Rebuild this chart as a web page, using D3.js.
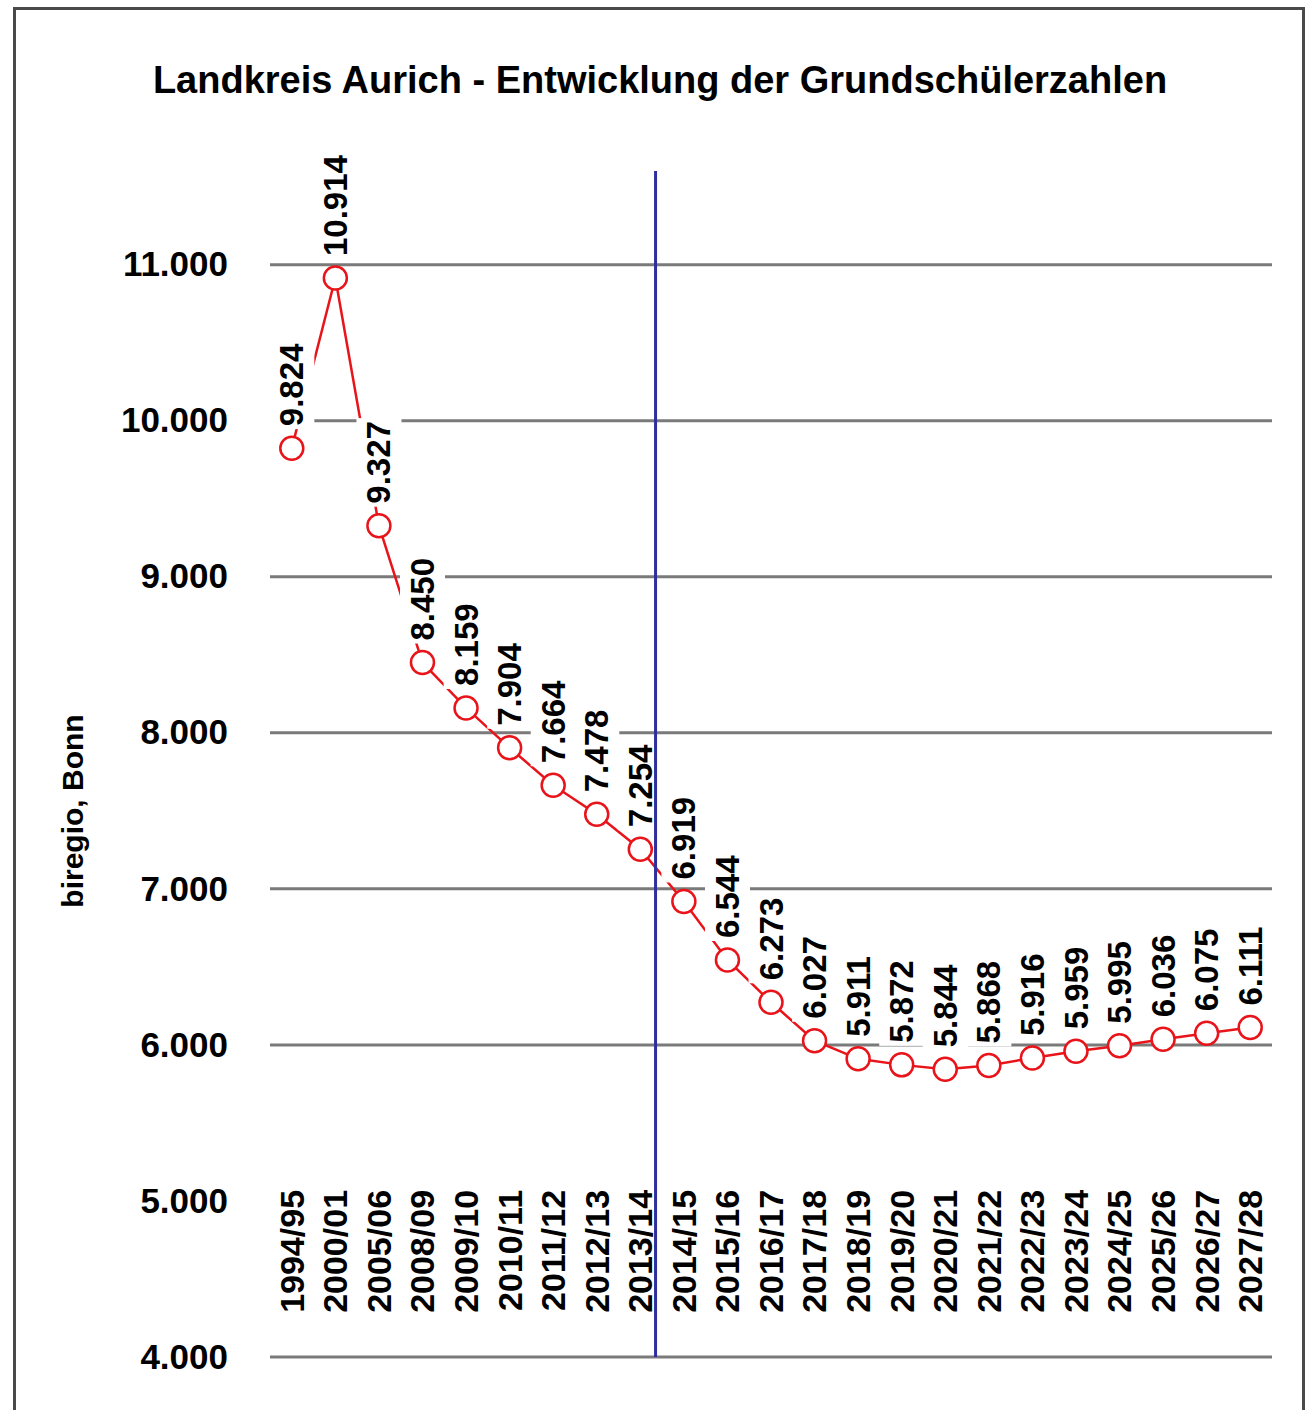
<!DOCTYPE html>
<meta charset="utf-8">
<style>
    body { margin: 0; background: #fff; }
    svg text { font-family: "Liberation Sans", Arial, sans-serif; fill: #000; }
</style>
<script src="https://d3js.org/d3.v7.min.js"></script>
<body>
<div id="chart"></div>
<script>
    var categories = ["1994/95", "2000/01", "2005/06", "2008/09", "2009/10", "2010/11", "2011/12",
        "2012/13", "2013/14", "2014/15", "2015/16", "2016/17", "2017/18", "2018/19", "2019/20",
        "2020/21", "2021/22", "2022/23", "2023/24", "2024/25", "2025/26", "2026/27", "2027/28"];
    var pupils = [9824, 10914, 9327, 8450, 8159, 7904, 7664, 7478, 7254, 6919, 6544, 6273, 6027,
        5911, 5872, 5844, 5868, 5916, 5959, 5995, 6036, 6075, 6111];
    var yTicks = [4000, 5000, 6000, 7000, 8000, 9000, 10000, 11000];
    var gridValues = [4000, 6000, 7000, 8000, 9000, 10000, 11000];
    var dividerAfter = "2013/14";   // forecast starts after this school year

    var W = 1308, H = 1410;
    var margin = {top: 171, right: 36, bottom: 53, left: 270};
    var width = W - margin.left - margin.right,
        height = H - margin.top - margin.bottom;

    var de = d3.formatLocale({decimal: ",", thousands: ".", grouping: [3], currency: ["", " €"]});
    var fmt = de.format(",d");

    var svg = d3.select("#chart").append("svg")
        .attr("width", W)
        .attr("height", H);

    svg.append("rect")
        .attr("width", W).attr("height", H)
        .attr("fill", "#fff");

    // outer frame
    svg.append("rect")
        .attr("x", 14.5).attr("y", 8.5)
        .attr("width", 1289).attr("height", 1430)
        .attr("fill", "none")
        .attr("stroke", "#4a4a4a")
        .attr("stroke-width", 3);

    svg.append("text")
        .attr("x", 660)
        .attr("y", 93)
        .attr("text-anchor", "middle")
        .style("font-size", "38px")
        .style("font-weight", "bold")
        .text("Landkreis Aurich - Entwicklung der Grundschülerzahlen");

    svg.append("text")
        .attr("transform", "translate(72,811) rotate(-90)")
        .attr("text-anchor", "middle")
        .attr("dy", "0.35em")
        .style("font-size", "30px")
        .style("font-weight", "bold")
        .text("biregio, Bonn");

    var g = svg.append("g")
        .attr("transform", "translate(" + margin.left + "," + margin.top + ")");

    var x = d3.scaleBand()
        .domain(categories)
        .range([0, width]);

    var y = d3.scaleLinear()
        .domain([4000, 11600])
        .range([height, 0]);

    // gridlines
    g.selectAll(".grid")
        .data(gridValues)
        .enter()
        .append("line")
        .attr("x1", 0).attr("x2", width)
        .attr("y1", function(d) { return y(d); })
        .attr("y2", function(d) { return y(d); })
        .attr("stroke", "#7a7a7a")
        .attr("stroke-width", 3);

    // y tick labels
    var yAxis = g.append("g")
        .call(d3.axisLeft(y).tickValues(yTicks).tickSize(0).tickPadding(42).tickFormat(fmt));
    yAxis.select(".domain").remove();
    yAxis.selectAll("text")
        .style("font-size", "35px")
        .style("font-weight", "bold")
        .style("font-family", "'Liberation Sans', Arial, sans-serif");

    // x labels, inside the plot
    g.selectAll(".xlab")
        .data(categories)
        .enter()
        .append("text")
        .attr("transform", function(d) {
            return "translate(" + (x(d) + x.bandwidth() / 2) + "," + (y(5000) - 11) + ") rotate(-90)";
        })
        .attr("text-anchor", "end")
        .attr("dy", "0.35em")
        .style("font-size", "34px")
        .style("font-weight", "bold")
        .text(function(d) { return d; });

    var line = d3.line()
        .x(function(d, i) { return x(categories[i]) + x.bandwidth() / 2; })
        .y(function(d) { return y(d); });

    g.append("path")
        .datum(pupils)
        .attr("fill", "none")
        .attr("stroke", "#e8141a")
        .attr("stroke-width", 2.5)
        .attr("d", line);

    g.selectAll(".dot")
        .data(pupils)
        .enter()
        .append("circle")
        .attr("cx", function(d, i) { return x(categories[i]) + x.bandwidth() / 2; })
        .attr("cy", function(d) { return y(d); })
        .attr("r", 11.5)
        .attr("fill", "#fff")
        .attr("stroke", "#e8141a")
        .attr("stroke-width", 2.5);

    // value labels with white boxes
    var labels = g.selectAll(".vlab")
        .data(pupils)
        .enter()
        .append("g")
        .attr("transform", function(d, i) {
            return "translate(" + (x(categories[i]) + x.bandwidth() / 2) + "," + (y(d) - 22) + ") rotate(-90)";
        });

    labels.append("text")
        .attr("text-anchor", "start")
        .attr("dy", "0.35em")
        .style("font-size", "33px")
        .style("font-weight", "bold")
        .text(function(d) { return fmt(d); });

    labels.each(function() {
        var grp = d3.select(this);
        var bb = grp.select("text").node().getBBox();
        grp.insert("rect", "text")
            .attr("x", bb.x - 3)
            .attr("y", bb.y - 4)
            .attr("width", bb.width + 6)
            .attr("height", bb.height + 8)
            .attr("fill", "#fff");
    });

    // forecast divider
    var xd = x(dividerAfter) + x.step() * 0.85;
    g.append("line")
        .attr("x1", xd).attr("x2", xd)
        .attr("y1", 0).attr("y2", height)
        .attr("stroke", "#2e2e9c")
        .attr("stroke-width", 3);
</script>
</body>
